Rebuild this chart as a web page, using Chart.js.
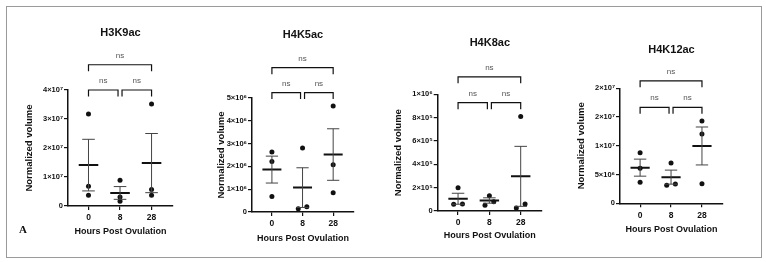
<!DOCTYPE html>
<html>
<head>
<meta charset="utf-8">
<script src="https://cdn.jsdelivr.net/npm/chart.js@4.4.0/dist/chart.umd.min.js"></script>
<style>
  html, body { margin: 0; padding: 0; background: #fff; }
  body { width: 766px; height: 262px; position: relative; overflow: hidden; }
  .frame { position: absolute; left: 6px; top: 6px; width: 754px; height: 250px; border: 1px solid #9a9a9a; }
  .panel { position: absolute; top: 0; }
  .tag { position: absolute; left: 19px; top: 223px; font: bold 11px 'Liberation Serif', serif; color: #111; }
</style>
</head>
<body>
<div class="frame"></div>
<canvas id="p0" class="panel"></canvas>
<canvas id="p1" class="panel"></canvas>
<canvas id="p2" class="panel"></canvas>
<canvas id="p3" class="panel"></canvas>
<div class="tag">A</div>
<script>
// --- data ---
const hours = ['0', '8', '28'];

// H3K9ac
const h3k9Values = [[3.17e7, 0.68e7, 0.37e7], [0.89e7, 0.31e7, 0.16e7], [3.52e7, 0.57e7, 0.37e7]];
const h3k9Mean = [1.41e7, 0.45e7, 1.48e7];
const h3k9Sem = [0.89e7, 0.22e7, 1.02e7];
const h3k9Ticks = ['0', '1×10⁷', '2×10⁷', '3×10⁷', '4×10⁷'];
const h3k9Brackets = [4.0e7, 4.87e7];

// H4K5ac
const h4k5Values = [[2.63e6, 2.22e6, 0.68e6], [2.81e6, 0.14e6, 0.23e6], [4.65e6, 2.07e6, 0.84e6]];
const h4k5Mean = [1.86e6, 1.07e6, 2.52e6];
const h4k5Sem = [0.59e6, 0.87e6, 1.13e6];
const h4k5Ticks = ['0', '1×10⁶', '2×10⁶', '3×10⁶', '4×10⁶', '5×10⁶'];
const h4k5Brackets = [5.24e6, 6.33e6];

// H4K8ac
const h4k8Values = [[2.0e5, 0.58e5, 0.6e5], [1.31e5, 0.49e5, 0.8e5], [8.1e5, 0.25e5, 0.6e5]];
const h4k8Mean = [1.05e5, 0.9e5, 2.97e5];
const h4k8Sem = [0.47e5, 0.23e5, 2.57e5];
const h4k8Ticks = ['0', '2×10⁵', '4×10⁵', '6×10⁵', '8×10⁵', '1×10⁶'];
const h4k8Brackets = [0.928e6, 1.15e6];

// H4K12ac
const h4k12Values = [[8.8e6, 6.1e6, 3.65e6], [7.0e6, 3.13e6, 3.36e6], [14.3e6, 12.05e6, 3.4e6]];
const h4k12Mean = [6.2e6, 4.55e6, 9.97e6];
const h4k12Sem = [1.48e6, 1.22e6, 3.3e6];
const h4k12Ticks = ['0', '5×10⁶', '1×10⁷', '2×10⁷', '2×10⁷'];
const h4k12Brackets = [1.67e7, 2.13e7];

// --- layout (pixel placement of each panel) ---
const FONT = "'Liberation Sans', Arial, sans-serif";
Chart.defaults.font.family = FONT;
Chart.defaults.color = '#111';

const panels = [
  { id: 'p0', title: 'H3K9ac', values: h3k9Values, mean: h3k9Mean, sem: h3k9Sem, ticks: h3k9Ticks, brackets: h3k9Brackets,
    yMax: 4e7, yStep: 1e7, jitter: [[0, 0, 0], [0, 0, 0], [0, 0, 0]],
    left: 24, width: 153, yWidth: 44, padTop: 26.7, titleGap: 50.1, xHeight: 31.1, padBottom: 24.9 },
  { id: 'p1', title: 'H4K5ac', values: h4k5Values, mean: h4k5Mean, sem: h4k5Sem, ticks: h4k5Ticks, brackets: h4k5Brackets,
    yMax: 5e6, yStep: 1e6, jitter: [[0, 0, 0], [0, -1, 1], [0, 0, 0]],
    left: 216, width: 142, yWidth: 36, padTop: 28.4, titleGap: 56.4, xHeight: 31.7, padBottom: 18.3 },
  { id: 'p2', title: 'H4K8ac', values: h4k8Values, mean: h4k8Mean, sem: h4k8Sem, ticks: h4k8Ticks, brackets: h4k8Brackets,
    yMax: 1e6, yStep: 2e5, jitter: [[0, -1, 1], [0, -1, 1], [0, -1, 1]],
    left: 393, width: 153, yWidth: 44.7, padTop: 35.9, titleGap: 45.2, xHeight: 30.4, padBottom: 20.6 },
  { id: 'p3', title: 'H4K12ac', values: h4k12Values, mean: h4k12Mean, sem: h4k12Sem, ticks: h4k12Ticks, brackets: h4k12Brackets,
    yMax: 2e7, yStep: 5e6, jitter: [[0, 0, 0], [0, -1, 1], [0, 0, 0]],
    left: 576, width: 151, yWidth: 44, padTop: 42.9, titleGap: 32.2, xHeight: 31.4, padBottom: 27.3 }
];

const JITTER = 0.14;     // horizontal spread of overlapping dots (category units)
const MEAN_HALF = 0.31;  // half width of the mean line
const CAP_HALF = 0.2;    // half width of the SEM caps

// draws the "ns" comparison brackets above each plot
const bracketPlugin = {
  id: 'brackets',
  afterDatasetsDraw(chart, args, opts) {
    const { ctx, scales: { x, y } } = chart;
    ctx.save();
    ctx.strokeStyle = '#111';
    ctx.lineWidth = 1.2;
    ctx.font = "8px " + FONT;
    ctx.fillStyle = '#555';
    ctx.textAlign = 'center';
    ctx.textBaseline = 'middle';
    opts.items.forEach(b => {
      let x1 = x.getPixelForValue(b.from) + (b.gapLeft ? 2 : 0);
      let x2 = x.getPixelForValue(b.to) - (b.gapRight ? 2 : 0);
      const yy = y.getPixelForValue(b.level);
      ctx.beginPath();
      ctx.moveTo(x1, yy + 6.5);
      ctx.lineTo(x1, yy);
      ctx.lineTo(x2, yy);
      ctx.lineTo(x2, yy + 6.5);
      ctx.stroke();
      ctx.fillText(b.label, (x1 + x2) / 2, yy - 9);
    });
    ctx.restore();
  }
};

function buildPanel(p) {
  const canvas = document.getElementById(p.id);
  canvas.width = p.width;
  canvas.height = 262;
  canvas.style.left = p.left + 'px';

  // individual replicates
  const dots = [];
  p.values.forEach((grp, i) => grp.forEach((v, j) => dots.push({ x: i + p.jitter[i][j] * JITTER, y: v })));

  // mean line + SEM whiskers, segments split by nulls
  const means = [];
  const whiskers = [];
  p.mean.forEach((m, i) => {
    const s = p.sem[i];
    means.push({ x: i - MEAN_HALF, y: m }, { x: i + MEAN_HALF, y: m }, { x: i, y: null });
    whiskers.push({ x: i, y: m - s }, { x: i, y: m + s }, { x: i, y: null },
      { x: i - CAP_HALF, y: m + s }, { x: i + CAP_HALF, y: m + s }, { x: i, y: null },
      { x: i - CAP_HALF, y: m - s }, { x: i + CAP_HALF, y: m - s }, { x: i, y: null });
  });

  const lo = p.brackets[0], hi = p.brackets[1];

  new Chart(canvas, {
    type: 'scatter',
    data: {
      datasets: [
        { data: whiskers, showLine: true, borderColor: '#444', borderWidth: 1, pointRadius: 0, spanGaps: false, clip: false },
        { data: means, showLine: true, borderColor: '#111', borderWidth: 2, pointRadius: 0, spanGaps: false, clip: false },
        { data: dots, pointRadius: 2.5, backgroundColor: '#111', borderWidth: 0, clip: false }
      ]
    },
    options: {
      responsive: false,
      animation: false,
      devicePixelRatio: 1,
      layout: { padding: { top: p.padTop, bottom: p.padBottom, left: 0, right: 0 } },
      plugins: {
        legend: { display: false },
        tooltip: { enabled: false },
        title: {
          display: true, text: p.title, fullSize: false, color: '#111',
          font: { size: 11, weight: 'bold' }, padding: { top: 0, bottom: p.titleGap }
        },
        brackets: {
          items: [
            { from: 0, to: 1, level: lo, label: 'ns', gapRight: true },
            { from: 1, to: 2, level: lo, label: 'ns', gapLeft: true },
            { from: 0, to: 2, level: hi, label: 'ns' }
          ]
        }
      },
      scales: {
        x: {
          type: 'linear', min: -0.65, max: 2.68,
          afterBuildTicks: s => { s.ticks = hours.map((_, i) => ({ value: i })); },
          afterFit: s => { s.height = p.xHeight; },
          ticks: { callback: (v, i) => hours[i], font: { size: 8.5, weight: 'bold' }, padding: 3, color: '#111' },
          grid: { drawOnChartArea: false, drawTicks: true, tickLength: 4, color: '#111', lineWidth: 1.2 },
          border: { color: '#111', width: 1.5 },
          title: { display: true, text: 'Hours Post Ovulation', font: { size: 9, weight: 'bold' }, padding: 0, color: '#111' }
        },
        y: {
          type: 'linear', min: 0, max: p.yMax,
          afterFit: s => { s.width = p.yWidth; },
          ticks: { stepSize: p.yStep, callback: (v, i) => p.ticks[i], font: { size: 7.5, weight: 'bold' }, padding: 1, color: '#111' },
          grid: { drawOnChartArea: false, drawTicks: true, tickLength: 4, color: '#111', lineWidth: 1.2 },
          border: { color: '#111', width: 1.5 },
          title: { display: true, text: 'Normalized volume', font: { size: 9.5, weight: 'bold' }, padding: 0, color: '#111' }
        }
      }
    },
    plugins: [bracketPlugin]
  });
}

panels.forEach(buildPanel);
</script>
</body>
</html>
